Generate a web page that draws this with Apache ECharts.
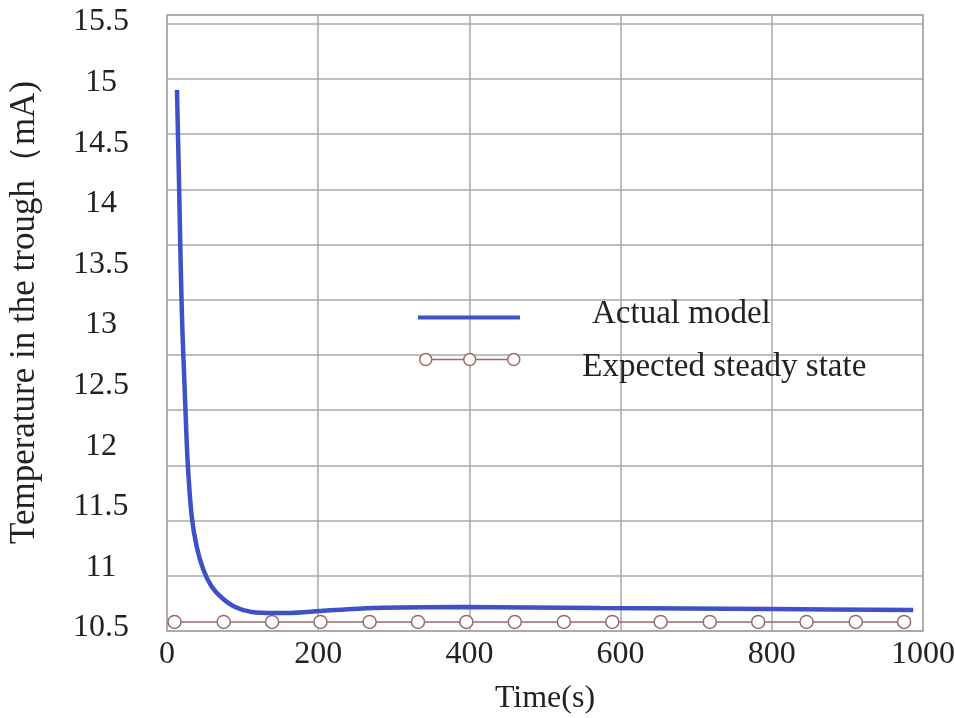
<!DOCTYPE html>
<html>
<head>
<meta charset="utf-8">
<script src="https://cdn.jsdelivr.net/npm/echarts@6/dist/echarts.min.js"></script>
<style>
  html, body { margin: 0; padding: 0; background: #fff; }
  #chart { width: 955px; height: 718px; }
</style>
</head>
<body>
<div id="chart"></div>
<script>
// data
var actualModel = [
    [13.2, 14.94], [15.9, 14.18], [18.1, 13.50], [20.3, 12.97], [22.9, 12.55],
    [24.8, 12.24], [27.4, 11.86], [32.7, 11.42], [39.3, 11.17], [48.1, 10.98],
    [59.2, 10.84], [72.5, 10.75], [90.1, 10.673], [112, 10.632], [143, 10.624],
    [163, 10.624], [203, 10.640], [273, 10.665], [388, 10.673], [573, 10.665],
    [795, 10.657], [987, 10.649]
];
var steadyX = [10, 75, 139, 203, 268, 332, 396, 460, 525, 589, 653, 718, 782, 846, 911, 975];
var steadyValue = 10.55;
var seriesNames = ['Actual model', 'Expected steady state'];

var blue = '#3d52c9';
var brown = '#9a6a6a';
var gridGrey = '#a9a9a9';
var font = 'Liberation Serif';

var steadyState = steadyX.map(function (x) { return [x, steadyValue]; });

var myChart = echarts.init(document.getElementById('chart'));

// legend icons; the bare M0,y L0,y points only stretch the icon box
var lineIcon = 'path://M0,0 L0,0 M0,8 H102 V12 H0 Z M0,14 L0,14';
var ringIcon = 'path://M1,7 A6,6 0 1,1 13,7 A6,6 0 1,1 1,7 Z M13,7 L45,7 M45,7 A6,6 0 1,1 57,7 A6,6 0 1,1 45,7 Z M57,7 L89,7 M89,7 A6,6 0 1,1 101,7 A6,6 0 1,1 89,7 Z M0,0 L0,0 M0,30 L0,30';

var option = {
    backgroundColor: '#fff',
    textStyle: { fontFamily: font },
    grid: [
        // grid lines + frame
        { left: 167, right: 32, top: 15, bottom: 87, show: true, borderColor: gridGrey, borderWidth: 1.5, outerBoundsMode: 'none' },
        // label scale for the data
        { left: 167, right: 32, top: 22, bottom: 90, outerBoundsMode: 'none' }
    ],
    legend: [
        {
            left: 413,
            top: 293,
            itemWidth: 102,
            itemHeight: 14,
            textStyle: { fontFamily: font, fontSize: 33, color: '#222', padding: [0, 0, 0, 67] },
            data: [{ name: seriesNames[0], icon: lineIcon, itemStyle: { color: blue, borderWidth: 0 } }]
        },
        {
            left: 413,
            top: 346,
            itemWidth: 102,
            itemHeight: 30,
            textStyle: { fontFamily: font, fontSize: 33, color: '#222', padding: [0, 0, 0, 57] },
            data: [{ name: seriesNames[1], icon: ringIcon, itemStyle: { color: '#fff', borderColor: brown, borderWidth: 1.5 } }]
        }
    ],
    xAxis: [
        {
            gridIndex: 0,
            type: 'value',
            min: 0,
            max: 1000,
            interval: 200,
            name: 'Time(s)',
            nameLocation: 'middle',
            nameGap: 52,
            nameTextStyle: { fontFamily: font, fontSize: 32, color: '#222' },
            axisLine: { show: true, lineStyle: { color: gridGrey, width: 1.5 } },
            axisTick: { show: false },
            axisLabel: {
                fontFamily: font, fontSize: 32, color: '#222', margin: 8,
                formatter: function (v) { return String(v); }
            },
            splitLine: { show: true, lineStyle: { color: gridGrey, width: 1.5 } }
        },
        {
            gridIndex: 1,
            type: 'value',
            min: 0,
            max: 1000,
            show: false
        }
    ],
    yAxis: [
        {
            gridIndex: 0,
            type: 'value',
            min: 0,
            max: 11.16,
            interval: 1,
            axisLine: { show: false },
            axisTick: { show: false },
            axisLabel: { show: false },
            splitLine: { show: true, lineStyle: { color: gridGrey, width: 1.5 } }
        },
        {
            gridIndex: 1,
            type: 'value',
            min: 10.5,
            max: 15.5,
            interval: 0.5,
            name: 'Temperature in the trough（mA)',
            nameLocation: 'middle',
            nameGap: 125,
            nameRotate: 90,
            nameTextStyle: { fontFamily: font, fontSize: 35, color: '#222', padding: [0, 0, 0, 25] },
            axisLine: { show: false },
            axisTick: { show: false },
            splitLine: { show: false },
            axisLabel: { fontFamily: font, fontSize: 32, color: '#222', margin: 66, align: 'center' }
        }
    ],
    series: [
        {
            name: seriesNames[0],
            type: 'line',
            xAxisIndex: 1,
            yAxisIndex: 1,
            data: actualModel,
            smooth: 0.3,
            symbol: 'none',
            clip: false,
            lineStyle: { color: blue, width: 4.5 },
            itemStyle: { color: blue },
            z: 3
        },
        {
            name: seriesNames[1],
            type: 'line',
            xAxisIndex: 1,
            yAxisIndex: 1,
            data: steadyState,
            symbol: 'circle',
            symbolSize: 13,
            showAllSymbol: true,
            clip: false,
            lineStyle: { color: brown, width: 1.5 },
            itemStyle: { color: '#fff', borderColor: brown, borderWidth: 1.5 },
            z: 4
        }
    ]
};

myChart.setOption(option);
</script>
</body>
</html>
